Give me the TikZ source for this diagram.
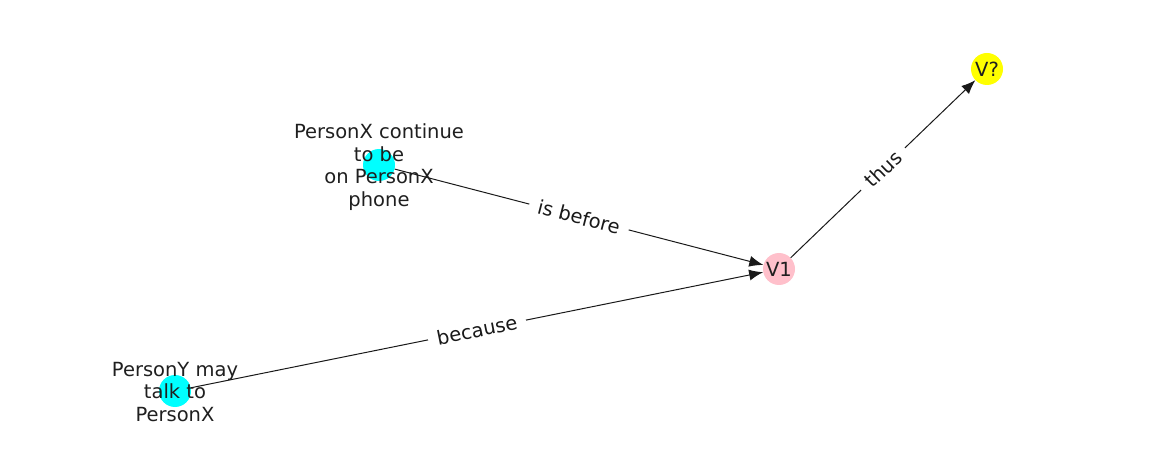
\documentclass[tikz,border=0pt]{standalone}
\usepackage{fontspec}
\setmainfont{DejaVu Sans}
\usetikzlibrary{arrows.meta}

\definecolor{vcyan}{RGB}{0,255,255}
\definecolor{vpink}{RGB}{255,192,203}
\definecolor{vyellow}{RGB}{255,255,0}

\tikzset{
  vertex/.style={circle, minimum size=32pt, inner sep=0pt},
  vtext/.style={align=center, inner sep=0pt, text=black!88},
  rel/.style={-{Latex[length=14pt,width=11pt]}, line width=1pt, black!90},
  rellabel/.style={midway, sloped, fill=white, inner xsep=9pt, inner ysep=4pt, text=black!90}
}

\begin{document}
\begin{tikzpicture}[x=1pt, y=-1pt, font=\fontsize{19.5}{22.5}\selectfont]
      \useasboundingbox (0,0) rectangle (1162,462);
      % nodes
      \node[vertex, fill=vcyan]   (cont) at (379,165) {};
      \node[vertex, fill=vcyan]   (talk) at (175,391) {};
      \node[vertex, fill=vpink]   (v1)   at (779,269) {};
      \node[vertex, fill=vyellow] (vq)   at (987,69)  {};
      % edges
      \draw[rel] (cont) -- (v1) node[rellabel] {is before};
      \draw[rel] (talk) -- (v1) node[rellabel] {because};
      \draw[rel] (v1) -- (vq) node[rellabel] {thus};
      % labels
      \node[vtext, yshift=-2pt] at (cont) {PersonX continue\\to be\\on PersonX\\phone};
      \node[vtext, yshift=-1pt] at (talk) {PersonY may\\talk to\\PersonX};
      \node[vtext] at (v1) {V1};
      \node[vtext] at (vq) {V?};
    \end{tikzpicture}
\end{document}
